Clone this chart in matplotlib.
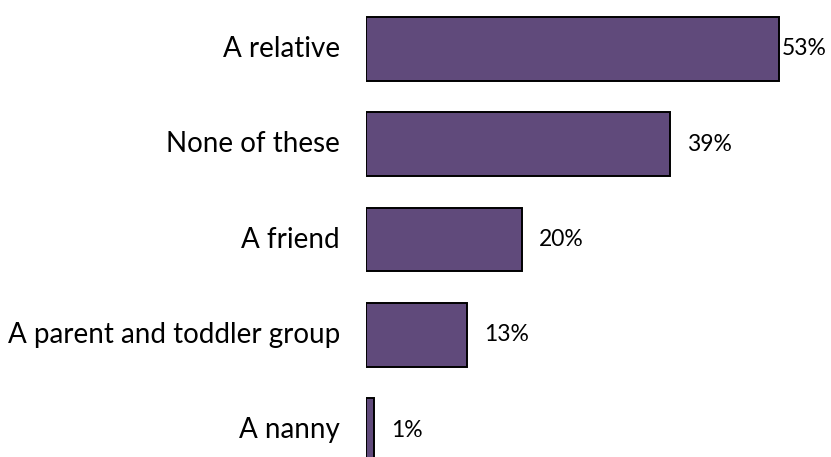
import matplotlib
matplotlib.use("Agg")
import matplotlib.pyplot as plt

categories = ["A relative", "None of these", "A friend",
              "A parent and toddler group", "A nanny"]
values = [53, 39, 20, 13, 1]
value_labels = ["53%", "39%", "20%", "13%", "1%"]

BAR_COLOR = "#604A7B"

plt.rcParams["font.family"] = ["Lato", "DejaVu Sans"]

fig = plt.figure(figsize=(8.31, 4.57), dpi=100)
ax = fig.add_axes([366 / 831, 0, 465 / 831, 1])

y = list(range(len(categories)))
ax.barh(y, values, height=0.67, color=BAR_COLOR, edgecolor="black",
        linewidth=1.4, align="center")

xmax = 465 / 7.8
ax.set_xlim(0, xmax)
ax.set_ylim(4.283, -0.514)

for yi, v, lab in zip(y, values, value_labels):
    # labels sit just past the bar end; the longest one is pulled in to fit
    off = 17 if v < 50 else 2
    ax.annotate(lab, (v, yi), xytext=(off, 0), textcoords="offset pixels",
                ha="left", va="center", fontsize=16.5, color="black")

for yi, cat in zip(y, categories):
    ax.annotate(cat, (0, yi), xytext=(-26, 0), textcoords="offset pixels",
                ha="right", va="center", fontsize=20, color="black",
                annotation_clip=False)

ax.set_xticks([])
ax.set_yticks([])
for s in ax.spines.values():
    s.set_visible(False)

fig.savefig("out.png", dpi=100)
